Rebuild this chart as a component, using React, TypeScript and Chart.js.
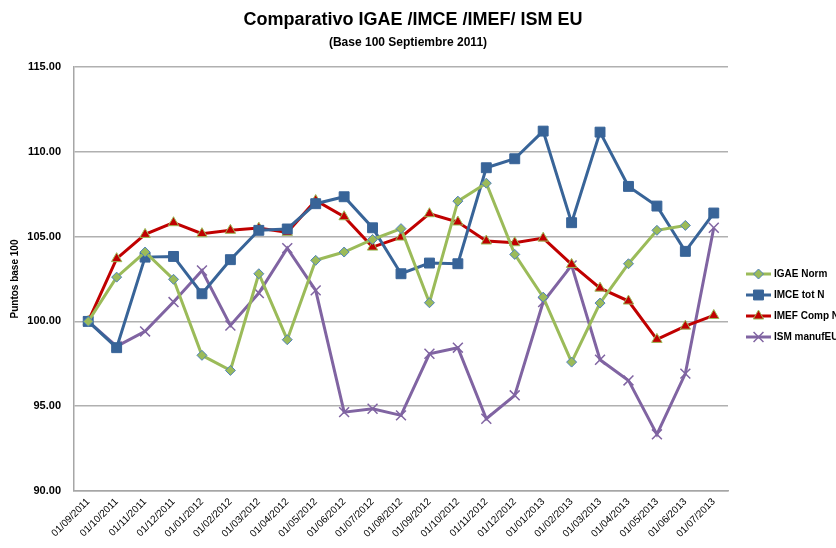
import React, { useEffect, useRef } from 'react';
import { Chart, registerables } from 'chart.js';

Chart.register(...registerables);

const TITLE = 'Comparativo IGAE /IMCE /IMEF/ ISM EU';
const SUBTITLE = '(Base 100 Septiembre 2011)';
const Y_TITLE = 'Puntos base 100';

const categories = [
  '01/09/2011', '01/10/2011', '01/11/2011', '01/12/2011', '01/01/2012', '01/02/2012',
  '01/03/2012', '01/04/2012', '01/05/2012', '01/06/2012', '01/07/2012', '01/08/2012',
  '01/09/2012', '01/10/2012', '01/11/2012', '01/12/2012', '01/01/2013', '01/02/2013',
  '01/03/2013', '01/04/2013', '01/05/2013', '01/06/2013', '01/07/2013',
];

const igaeNorm = [
  100, 102.61, 104.09, 102.48, 98.0, 97.11, 102.81, 98.92, 103.6, 104.09, 104.83, 105.47,
  101.1, 107.09, 108.15, 103.95, 101.43, 97.6, 101.08, 103.4, 105.37, 105.66, null,
];
const imceTotN = [
  100, 98.45, 103.79, 103.83, 101.63, 103.64, 105.37, 105.45, 106.94, 107.35, 105.52, 102.81,
  103.44, 103.4, 109.06, 109.59, 111.22, 105.82, 111.16, 107.96, 106.8, 104.13, 106.39,
];
const imefCompN = [
  100, 103.7, 105.13, 105.82, 105.17, 105.37, 105.5, 105.25, 107.13, 106.17, 104.38, 104.97,
  106.35, 105.86, 104.74, 104.64, 104.91, 103.36, 101.96, 101.2, 98.94, 99.72, 100.35,
];
const ismManufEU = [
  100, 98.53, 99.41, 101.14, 103.0, 99.76, 101.67, 104.32, 101.83, 94.65, 94.85, 94.46,
  98.09, 98.45, 94.26, 95.64, 101.14, 103.3, 97.74, 96.52, 93.34, 96.92, 105.52,
];

const FONT = "'Liberation Sans', Arial, sans-serif";

function drawMarker(ctx: CanvasRenderingContext2D, style: string, x: number, y: number, r: number, fill: string, stroke: string, lw: number) {
  ctx.save();
  ctx.fillStyle = fill;
  ctx.strokeStyle = stroke;
  ctx.lineWidth = lw;
  ctx.beginPath();
  if (style === 'rectRot') {
    ctx.moveTo(x, y - r);
    ctx.lineTo(x + r, y);
    ctx.lineTo(x, y + r);
    ctx.lineTo(x - r, y);
    ctx.closePath();
    ctx.fill();
    ctx.stroke();
  } else if (style === 'rect') {
    const s = Math.SQRT1_2 * r;
    ctx.rect(x - s, y - s, 2 * s, 2 * s);
    ctx.fill();
    ctx.stroke();
  } else if (style === 'triangle') {
    ctx.moveTo(x, y - r);
    ctx.lineTo(x + r * 0.866, y + r * 0.5);
    ctx.lineTo(x - r * 0.866, y + r * 0.5);
    ctx.closePath();
    ctx.fill();
    ctx.stroke();
  } else {
    const s = Math.SQRT1_2 * r;
    ctx.moveTo(x - s, y - s);
    ctx.lineTo(x + s, y + s);
    ctx.moveTo(x + s, y - s);
    ctx.lineTo(x - s, y + s);
    ctx.stroke();
  }
  ctx.restore();
}

export default function App() {
  const ref = useRef<HTMLCanvasElement>(null);

  useEffect(() => {
    if (!ref.current) return;

    const textPlugin = {
      id: 'textPlugin',
      afterDraw(chart: any) {
        const ctx = chart.ctx as CanvasRenderingContext2D;
        const area = chart.chartArea;
        ctx.save();
        ctx.fillStyle = '#000';
        ctx.textAlign = 'center';
        ctx.textBaseline = 'middle';
        ctx.font = `bold 18px ${FONT}`;
        ctx.fillText(TITLE, 413, 20);
        ctx.font = `bold 12px ${FONT}`;
        ctx.fillText(SUBTITLE, 408, 43);

        // y axis title
        ctx.save();
        ctx.translate(15, (area.top + area.bottom) / 2);
        ctx.rotate(-Math.PI / 2);
        ctx.font = `bold 10px ${FONT}`;
        ctx.fillText(Y_TITLE, 0, 0);
        ctx.restore();

        // legend
        const x0 = area.right + 18;
        chart.data.datasets.forEach((ds: any, i: number) => {
          const y = 274 + i * 21;
          ctx.strokeStyle = ds.borderColor;
          ctx.lineWidth = 3;
          ctx.beginPath();
          ctx.moveTo(x0, y);
          ctx.lineTo(x0 + 25, y);
          ctx.stroke();
          drawMarker(ctx, ds.pointStyle, x0 + 12.5, y, ds.pointRadius, ds.pointBackgroundColor, ds.pointBorderColor, ds.pointBorderWidth);
          ctx.fillStyle = '#000';
          ctx.textAlign = 'left';
          ctx.font = `bold 10px ${FONT}`;
          ctx.fillText(ds.label, x0 + 28, y);
        });
        ctx.restore();
      },
    };

    const chart = new Chart(ref.current, {
      type: 'line',
      data: {
        labels: categories,
        datasets: [
          {
            label: 'IGAE Norm',
            data: igaeNorm,
            borderColor: '#9BBB59',
            borderWidth: 3,
            pointStyle: 'rectRot',
            pointRadius: 5,
            pointBackgroundColor: '#9BBB59',
            pointBorderColor: '#4F81BD',
            pointBorderWidth: 1,
            tension: 0,
          },
          {
            label: 'IMCE tot N',
            data: imceTotN,
            borderColor: '#386498',
            borderWidth: 3,
            pointStyle: 'rect',
            pointRadius: 7,
            pointBackgroundColor: '#386498',
            pointBorderColor: '#386498',
            pointBorderWidth: 1,
            tension: 0,
          },
          {
            label: 'IMEF Comp N',
            data: imefCompN,
            borderColor: '#C00000',
            borderWidth: 3,
            pointStyle: 'triangle',
            pointRadius: 6,
            pointBackgroundColor: '#C00000',
            pointBorderColor: '#9BBB59',
            pointBorderWidth: 1,
            tension: 0,
          },
          {
            label: 'ISM manufEU',
            data: ismManufEU,
            borderColor: '#8064A2',
            borderWidth: 3,
            pointStyle: 'crossRot',
            pointRadius: 7,
            pointBackgroundColor: '#8064A2',
            pointBorderColor: '#8064A2',
            pointBorderWidth: 1.5,
            tension: 0,
          },
        ],
      } as any,
      options: {
        responsive: false,
        animation: false,
        layout: { padding: { top: 67, right: 108, bottom: 0, left: 0 } },
        plugins: {
          legend: { display: false },
          title: { display: false },
          tooltip: { enabled: false },
        },
        scales: {
          x: {
            offset: true,
            grid: { display: false, drawTicks: false },
            border: { display: true, color: '#A6A6A6', width: 1.5 },
            ticks: {
              autoSkip: false,
              maxRotation: 45,
              minRotation: 45,
              padding: 5,
              color: '#000',
              font: { family: FONT, size: 10 },
            },
            afterFit: (s: any) => { s.height = 57; },
          },
          y: {
            min: 90,
            max: 115,
            grid: { color: '#B0B0B0', lineWidth: 1.5, drawTicks: false },
            border: { display: true, color: '#A6A6A6', width: 1.5 },
            ticks: {
              stepSize: 5,
              padding: 13,
              color: '#000',
              font: { family: FONT, size: 11, weight: 'bold' },
              callback: (v: any) => Number(v).toFixed(2),
            },
            afterFit: (s: any) => { s.width = 74; },
          },
        },
      } as any,
      plugins: [textPlugin],
    });

    return () => chart.destroy();
  }, []);

  return (
    <div style={{ position: 'fixed', left: 0, top: 0, width: 836, height: 548, background: '#fff' }}>
      <canvas ref={ref} width={836} height={548} style={{ width: 836, height: 548 }} />
    </div>
  );
}
